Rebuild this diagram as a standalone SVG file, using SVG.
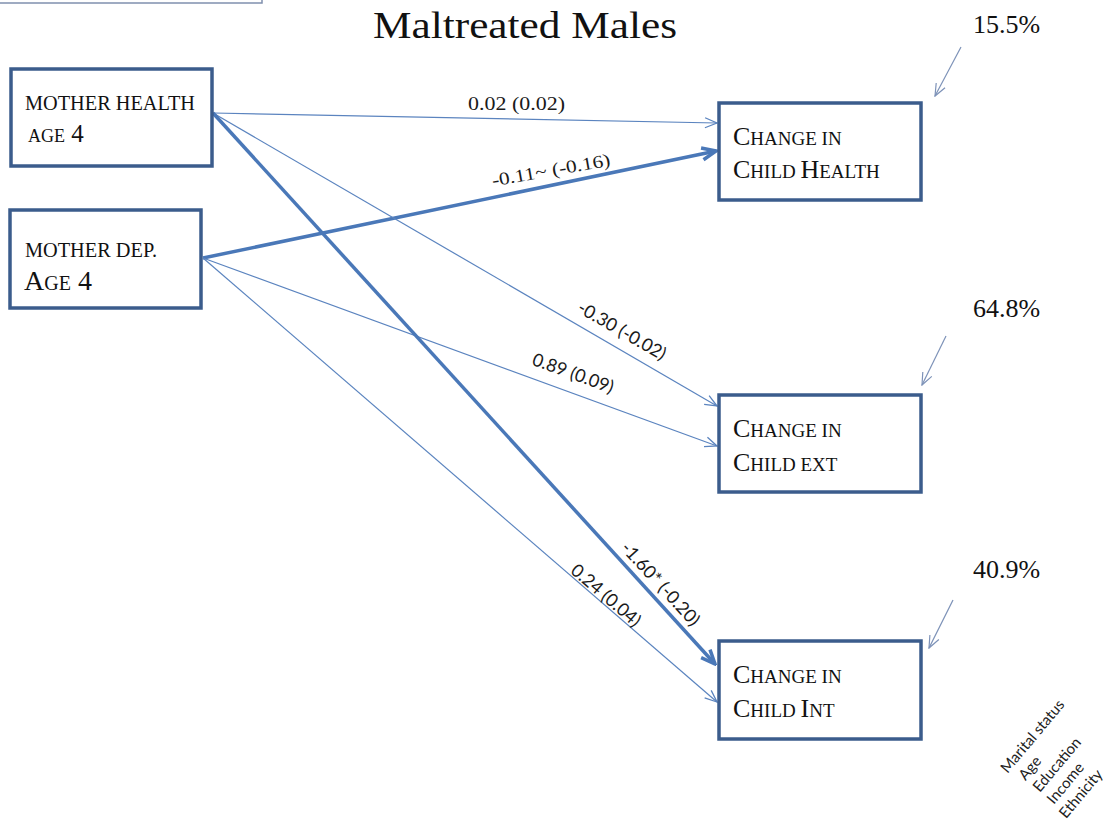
<svg xmlns="http://www.w3.org/2000/svg" width="1118" height="828" viewBox="0 0 1118 828">
<style>
.box{fill:#ffffff;stroke:#3b5c8c;stroke-width:3.5}
.nt{font-family:"Liberation Serif",serif;fill:#111111}
.thin{fill:none;stroke:#5b84bf;stroke-width:1.2}
.thick{fill:none;stroke:#4a78b8;stroke-width:3.5}
.note{fill:none;stroke:#7d92b8;stroke-width:1.2}
.lab{font-family:"Liberation Serif",serif;font-size:18px;fill:#1a1a1a}
.labs{font-family:Lato,"Liberation Sans",sans-serif;font-size:18px;fill:#1a1a1a}
.pct{font-family:"Liberation Serif",serif;font-size:26px;fill:#111111}
.cov{font-family:Lato,"Liberation Sans",sans-serif;font-size:15px;fill:#222222}
</style>
<defs>
<marker id="ahThin" viewBox="0 0 14 12" refX="13" refY="6" markerWidth="14" markerHeight="12" orient="auto" markerUnits="userSpaceOnUse">
<path d="M1,1 L13,6 L1,11" fill="none" stroke="#5b84bf" stroke-width="1.3"/>
</marker>
<marker id="ahThick" viewBox="0 0 18 16" refX="16" refY="8" markerWidth="18" markerHeight="16" orient="auto" markerUnits="userSpaceOnUse">
<path d="M2,2 L16,8 L2,14" fill="none" stroke="#4a78b8" stroke-width="3.5"/>
</marker>
<marker id="ahNote" viewBox="0 0 14 12" refX="13" refY="6" markerWidth="14" markerHeight="12" orient="auto" markerUnits="userSpaceOnUse">
<path d="M1,1 L13,6 L1,11" fill="none" stroke="#7d92b8" stroke-width="1.2"/>
</marker>
</defs>
<rect width="1118" height="828" fill="#ffffff"/>
<path d="M0,3 H262 V0" fill="none" stroke="#8090ae" stroke-width="1.5"/>
<text x="525" y="38" text-anchor="middle" font-family="Liberation Serif, serif" font-size="38" fill="#111111" textLength="304" lengthAdjust="spacingAndGlyphs">Maltreated Males</text>

<g id="connectors">
<line class="thin" x1="213" y1="113" x2="717" y2="123" marker-end="url(#ahThin)"/>
<line class="thick" x1="203" y1="258" x2="716" y2="151" marker-end="url(#ahThick)"/>
<line class="thin" x1="213" y1="113" x2="717" y2="406" marker-end="url(#ahThin)"/>
<line class="thin" x1="203" y1="258" x2="717" y2="446" marker-end="url(#ahThin)"/>
<line class="thick" x1="213" y1="113" x2="715" y2="664" marker-end="url(#ahThick)"/>
<line class="thin" x1="203" y1="258" x2="717" y2="702" marker-end="url(#ahThin)"/>
<text class="lab" x="468" y="110" textLength="97" lengthAdjust="spacingAndGlyphs">0.02 (0.02)</text>
<text class="lab" x="552" y="176" text-anchor="middle" font-size="19" textLength="120" lengthAdjust="spacingAndGlyphs" transform="rotate(-10 552 176)">-0.11~ (-0.16)</text>
<text class="labs" x="619" y="336" text-anchor="middle" transform="rotate(30 619 336)">-0.30 (-0.02)</text>
<text class="labs" x="571" y="379" text-anchor="middle" transform="rotate(20 571 379)">0.89 (0.09)</text>
<text class="labs" x="656" y="588" text-anchor="middle" transform="rotate(47.5 656 588)">-1.60* (-0.20)</text>
<text class="labs" x="602" y="600" text-anchor="middle" transform="rotate(40.6 602 600)">0.24 (0.04)</text>
<line class="note" x1="961" y1="47" x2="935" y2="96" marker-end="url(#ahNote)"/>
<line class="note" x1="946" y1="336" x2="922" y2="385" marker-end="url(#ahNote)"/>
<line class="note" x1="953" y1="600" x2="929" y2="648" marker-end="url(#ahNote)"/>
</g>

<g id="mother-health">
<rect class="box" x="11" y="69" width="201" height="97"/>
<text class="nt" x="25" y="110" font-size="21" textLength="170" lengthAdjust="spacingAndGlyphs">MOTHER HEALTH</text>
<text class="nt" x="28" y="142"><tspan font-size="18">AGE</tspan><tspan font-size="25"> 4</tspan></text>
</g>

<g id="mother-dep">
<rect class="box" x="10" y="210" width="191" height="98"/>
<text class="nt" x="25" y="257" font-size="21" textLength="132" lengthAdjust="spacingAndGlyphs">MOTHER DEP.</text>
<text class="nt" x="24" y="290"><tspan font-size="28">A</tspan><tspan font-size="20">GE</tspan><tspan font-size="28"> 4</tspan></text>
</g>

<g id="child-health">
<rect class="box" x="719" y="103" width="202" height="97"/>
<text class="nt" x="733" y="145"><tspan font-size="26">C</tspan><tspan font-size="19">HANGE IN</tspan></text>
<text class="nt" x="733" y="178"><tspan font-size="26">C</tspan><tspan font-size="19">HILD </tspan><tspan font-size="26">H</tspan><tspan font-size="19">EALTH</tspan></text>
</g>

<g id="child-ext">
<rect class="box" x="719" y="395" width="202" height="97"/>
<text class="nt" x="733" y="437"><tspan font-size="26">C</tspan><tspan font-size="19">HANGE IN</tspan></text>
<text class="nt" x="733" y="471"><tspan font-size="26">C</tspan><tspan font-size="19">HILD EXT</tspan></text>
</g>

<g id="child-int">
<rect class="box" x="719" y="641" width="202" height="98"/>
<text class="nt" x="733" y="683"><tspan font-size="26">C</tspan><tspan font-size="19">HANGE IN</tspan></text>
<text class="nt" x="733" y="717"><tspan font-size="26">C</tspan><tspan font-size="19">HILD </tspan><tspan font-size="26">I</tspan><tspan font-size="19">NT</tspan></text>
</g>

<g id="r2-labels">
<text class="pct" x="973" y="33">15.5%</text>
<text class="pct" x="973" y="317">64.8%</text>
<text class="pct" x="973" y="578">40.9%</text>
</g>

<g id="covariates" transform="translate(1007.5 773.9) rotate(-50)">
<text class="cov" x="0" y="0">Marital status</text>
<text class="cov" x="6" y="18.5">Age</text>
<text class="cov" x="6" y="37">Education</text>
<text class="cov" x="6" y="55.5">Income</text>
<text class="cov" x="3" y="74">Ethnicity</text>
</g>
</svg>
